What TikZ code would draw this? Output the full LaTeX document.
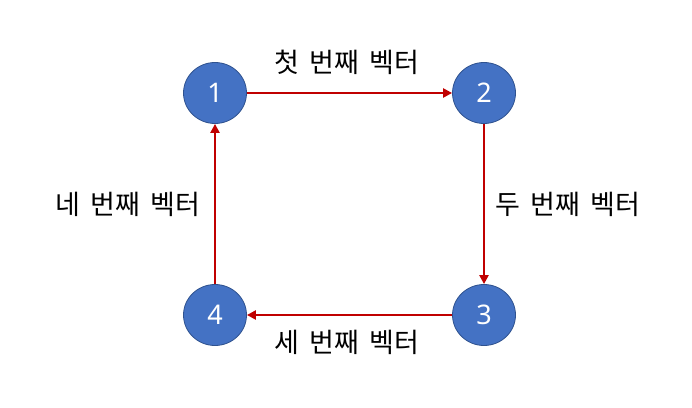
\documentclass[tikz,border=0pt]{standalone}
\usepackage{fontspec}
\newfontfamily\kofont{Noto Sans CJK KR}
\newfontfamily\numfont{Noto Sans}
\usetikzlibrary{shapes.geometric,arrows.meta}
\definecolor{nodeblue}{HTML}{4472C4}
\definecolor{nodeedge}{HTML}{2F528F}
\definecolor{vecred}{HTML}{C00000}
\tikzset{
  point/.style={ellipse, fill=nodeblue, draw=nodeedge, line width=0.8pt,
    minimum width=63pt, minimum height=61pt, inner sep=0pt,
    text=white, font=\numfont\fontsize{27}{27}\selectfont},
  vec/.style={draw=vecred, line width=2.2pt, -{Triangle[length=9pt,width=9pt]}},
  vlabel/.style={font=\kofont\fontsize{27}{27}\selectfont, inner sep=0pt}
}
\begin{document}
\begin{tikzpicture}[x=1pt, y=1pt]
  \useasboundingbox (0,0) rectangle (692,407);
  \node[point] (p1) at (215,314) {1};
  \node[point] (p2) at (484,314) {2};
  \node[point] (p3) at (484,92) {3};
  \node[point] (p4) at (215,92) {4};
  \draw[vec] (p1) -- (p2);
  \draw[vec] (p2) -- (p3);
  \draw[vec] (p3) -- (p4);
  \draw[vec] (p4) -- (p1);
  \node[vlabel] (l1) at (347,345) {첫\hspace{0.38em}번째\hspace{0.38em}벡터};
  \node[vlabel] (l2) at (568,203) {두\hspace{0.38em}번째\hspace{0.38em}벡터};
  \node[vlabel] (l3) at (347,65) {세\hspace{0.38em}번째\hspace{0.38em}벡터};
  \node[vlabel] (l4) at (128,203) {네\hspace{0.38em}번째\hspace{0.38em}벡터};
\end{tikzpicture}
\end{document}
